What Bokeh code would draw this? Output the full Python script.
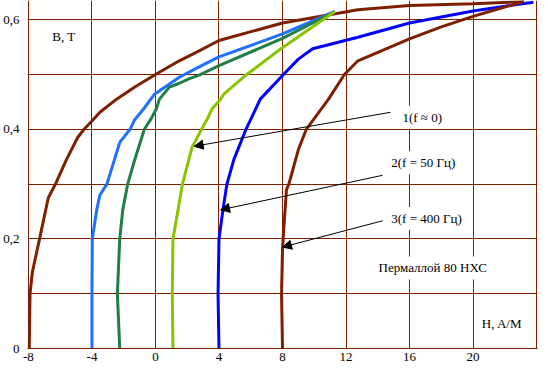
from bokeh.plotting import figure
from bokeh.models import Range1d, FixedTicker, Label, Arrow, NormalHead
from bokeh.embed import file_html
from bokeh.resources import INLINE

# ---- data (H in A/M, B in T) ----
h_brown_left = [-7.95, -7.9, -7.75, -7.3, -6.75, -6.3, -5.6, -4.9, -4.5, -4.0, -3.5, -2.45, -1.3, 0.0, 1.5, 2.75, 4.0, 8.0, 12.75, 16.0, 20.0, 23.2]
b_brown_left = [0.0, 0.1, 0.14, 0.2, 0.275, 0.30, 0.345, 0.385, 0.40, 0.415, 0.431, 0.455, 0.477, 0.50, 0.525, 0.543, 0.562, 0.594, 0.618, 0.626, 0.629, 0.633]

h_light_blue = [-4.0, -4.0, -3.98, -3.7, -3.5, -3.06, -2.25, -1.6, -1.3, -0.75, -0.06, 1.5, 2.75, 4.0, 8.0, 11.3]
b_light_blue = [0.0, 0.1, 0.2, 0.253, 0.28, 0.30, 0.376, 0.40, 0.418, 0.437, 0.464, 0.495, 0.514, 0.532, 0.574, 0.615]

h_green = [-2.25, -2.4, -2.25, -2.06, -1.75, -1.3, -0.7, -0.3, 0.05, 0.25, 0.875, 1.5, 2.1, 2.75, 4.0, 8.0, 11.3]
b_green = [0.0, 0.1, 0.2, 0.253, 0.30, 0.345, 0.40, 0.418, 0.437, 0.455, 0.477, 0.484, 0.492, 0.499, 0.516, 0.566, 0.615]

h_yellow = [1.1, 1.06, 1.1, 1.5, 1.7, 1.94, 2.3, 2.9, 3.25, 3.56, 4.1, 4.3, 5.75, 7.9, 11.3]
b_yellow = [0.0, 0.1, 0.2, 0.266, 0.30, 0.327, 0.367, 0.40, 0.418, 0.437, 0.455, 0.464, 0.50, 0.547, 0.615]

h_blue = [4.0, 3.94, 4.0, 4.25, 4.5, 4.94, 5.7, 6.0, 6.6, 8.06, 9.0, 9.9, 12.75, 16.0, 20.0, 23.8]
b_blue = [0.0, 0.1, 0.2, 0.253, 0.30, 0.345, 0.40, 0.418, 0.455, 0.50, 0.528, 0.547, 0.568, 0.594, 0.616, 0.632]

h_brown_right = [8.0, 7.94, 8.0, 8.06, 8.25, 8.4, 9.0, 9.5, 10.9, 11.9, 12.75, 16.0, 18.0, 20.0, 22.1, 23.2]
b_brown_right = [0.0, 0.1, 0.18, 0.21, 0.29, 0.30, 0.363, 0.40, 0.455, 0.50, 0.525, 0.565, 0.587, 0.606, 0.624, 0.633]

x_ticks = [-8, -4, 0, 4, 8, 12, 16, 20]
x_tick_labels = ["-8", "-4", "0", "4", "8", "12", "16", "20"]
y_ticks = [0, 0.2, 0.4, 0.6]
y_tick_labels = ["0", "0,2", "0,4", "0,6"]
x_grid = [-8, -4, 0, 4, 8, 12, 16, 20, 24]
y_grid = [0, 0.1, 0.2, 0.3, 0.4, 0.5, 0.6]

GRID = "#7f1f00"
FONT = "Liberation Serif"
FS = "13px"

p = figure(width=540, height=363, x_range=Range1d(-8.06, 24.06), y_range=Range1d(0, 0.635),
           output_backend="svg", toolbar_location=None,
           min_border_left=27, min_border_right=3, min_border_top=0, min_border_bottom=10)
p.outline_line_color = None
p.background_fill_color = "white"

p.xgrid.ticker = FixedTicker(ticks=x_grid)
p.ygrid.ticker = FixedTicker(ticks=y_grid)
p.xgrid.bounds = (0, 0.6)
p.ygrid.bounds = (-8, 24)
for g in (p.xgrid, p.ygrid):
    g.grid_line_color = GRID
    g.grid_line_width = 1
    g.grid_line_alpha = 1.0

p.xaxis.ticker = FixedTicker(ticks=x_ticks)
p.xaxis.major_label_overrides = dict(zip(x_ticks, x_tick_labels))
p.yaxis.ticker = FixedTicker(ticks=y_ticks)
p.yaxis.major_label_overrides = dict(zip(y_ticks, y_tick_labels))
for ax in (p.xaxis, p.yaxis):
    ax.major_tick_line_color = None
    ax.minor_tick_line_color = None
    ax.major_tick_out = 0
    ax.major_tick_in = 0
    ax.minor_tick_out = 0
    ax.minor_tick_in = 0
    ax.major_label_text_font = FONT
    ax.major_label_text_font_size = FS
    ax.major_label_text_color = "black"
p.xaxis.axis_line_color = GRID
p.yaxis.axis_line_color = None
p.xaxis.major_label_standoff = 4
p.yaxis.major_label_standoff = 8

LW = 3
p.line(h_brown_left, b_brown_left, line_color="#7f1f00", line_width=LW)
p.line(h_light_blue, b_light_blue, line_color="#2070ff", line_width=LW)
p.line(h_green, b_green, line_color="#1f7f45", line_width=LW)
p.line(h_yellow, b_yellow, line_color="#88c400", line_width=LW)
p.line(h_blue, b_blue, line_color="#0000ff", line_width=LW)
p.line(h_brown_right, b_brown_right, line_color="#7f1f00", line_width=LW)

def lab(x, y, t):
    p.add_layout(Label(x=x, y=y, text=t, text_font=FONT, text_font_size=FS,
                       text_align="left", text_baseline="middle", text_color="black",
                       background_fill_color="white", padding=4))

lab(15.3, 0.422, "1(f \u2248 0)")
lab(14.6, 0.339, "2(f = 50 \u0413\u0446)")
lab(14.6, 0.237, "3(f = 400 \u0413\u0446)")
lab(13.8, 0.147, "\u041f\u0435\u0440\u043c\u0430\u043b\u043b\u043e\u0439 80 \u041d\u0425\u0421")
lab(20.3, 0.046, "H, A/M")
lab(-6.75, 0.569, "B, T")

for xs, ys, xe, ye in [(14.8, 0.431, 2.44, 0.369), (14.3, 0.316, 4.1, 0.253), (14.3, 0.233, 8.0, 0.185)]:
    p.add_layout(Arrow(end=NormalHead(size=9, fill_color="black", line_color="black"),
                       x_start=xs, y_start=ys, x_end=xe, y_end=ye,
                       line_color="black", line_width=1))

open("out.html", "w").write(file_html(p, INLINE))
